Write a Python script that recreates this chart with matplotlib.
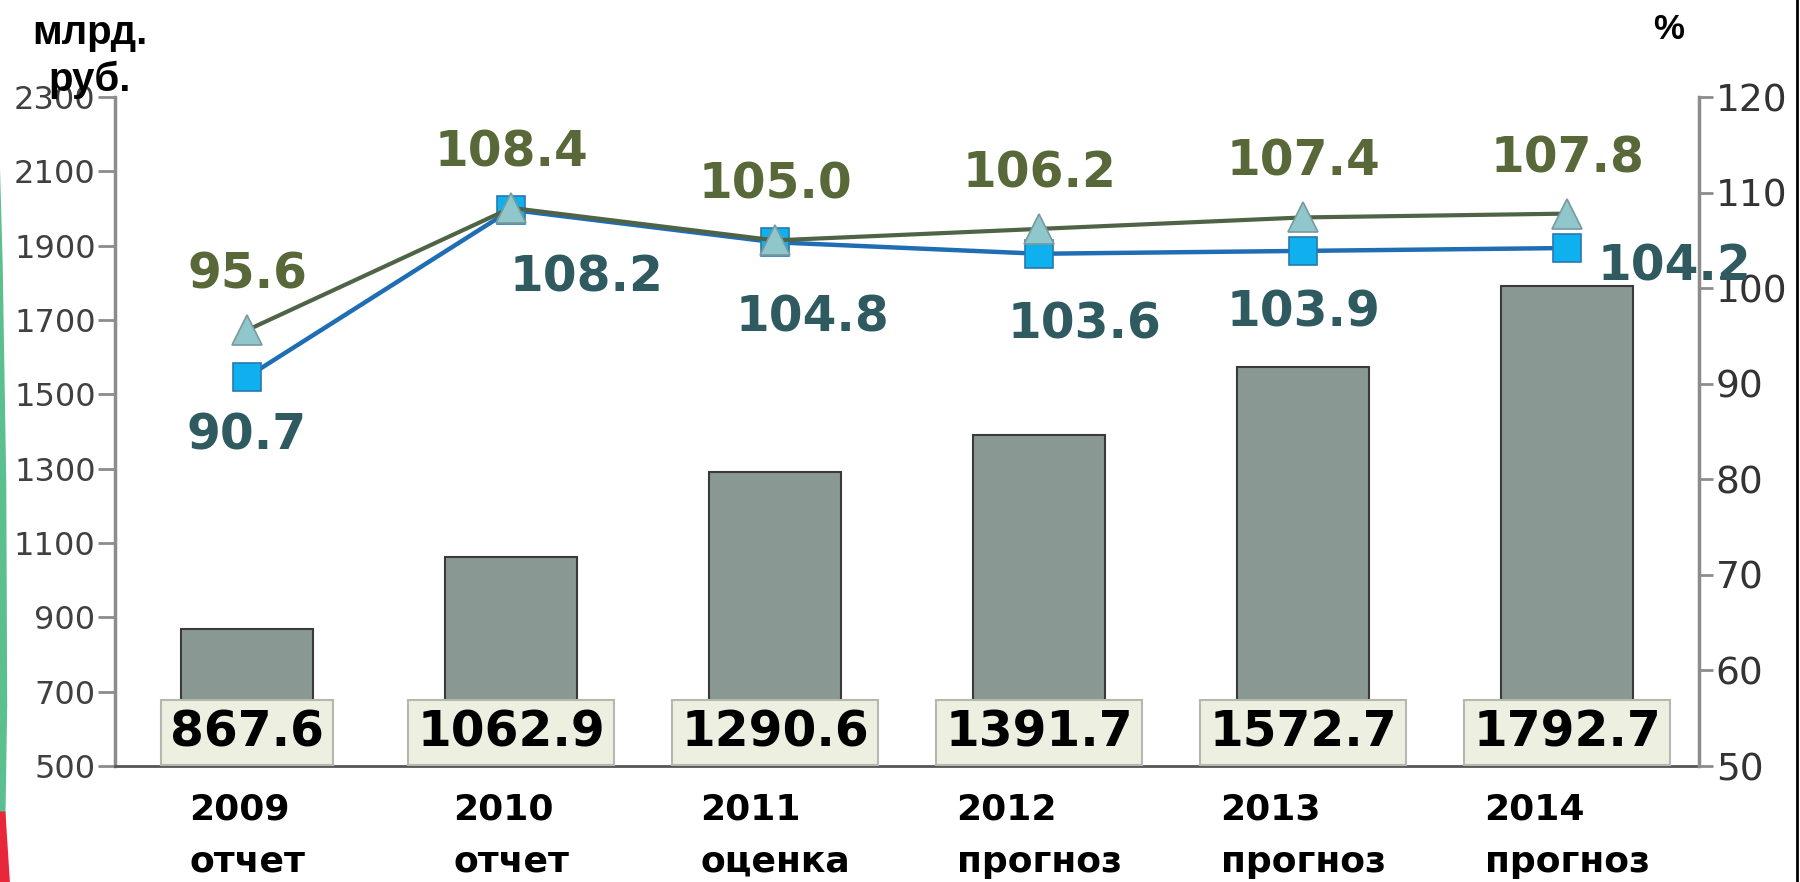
import matplotlib
matplotlib.use("Agg")
import matplotlib.pyplot as plt
from matplotlib.patches import Polygon
from matplotlib.lines import Line2D

# данные
years = ["2009", "2010", "2011", "2012", "2013", "2014"]
status = ["отчет", "отчет", "оценка", "прогноз", "прогноз", "прогноз"]
volume = [867.6, 1062.9, 1290.6, 1391.7, 1572.7, 1792.7]  # млрд. руб.
growth_upper = [95.6, 108.4, 105.0, 106.2, 107.4, 107.8]  # %
growth_lower = [90.7, 108.2, 104.8, 103.6, 103.9, 104.2]  # %

# смещения подписей нижней линии (в пунктах)
lower_offsets = [(0, -42), (54, -49), (27, -54), (33, -51), (0, -44), (77, -13)]

bar_color = "#8a9893"
upper_line = "#4f6446"
upper_marker = "#8fc7cc"
lower_line = "#1f6db3"
lower_marker = "#0fb0ee"
upper_text = "#586838"
lower_text = "#2e5a60"
spine_color = "#8c8c8c"

fig = plt.figure(figsize=(18, 8.82), dpi=100)
ax1 = fig.add_axes([0.0639, 0.1315, 0.88, 0.7585])
ax2 = ax1.twinx()

x = list(range(len(years)))

# столбцы
ax1.bar(x, volume, width=0.5, color=bar_color, edgecolor="#3a3a3a",
        linewidth=1.5, zorder=2)
for xi, v in zip(x, volume):
    ax1.text(xi, 590, f"{v:.1f}", ha="center", va="center", fontsize=35,
             fontweight="bold", color="black", zorder=5,
             bbox=dict(boxstyle="square,pad=0.18", facecolor="#edf0e1",
                       edgecolor="#b5b8b0", linewidth=1.5))

ax1.set_xlim(-0.5, 5.5)
ax1.set_ylim(500, 2300)
ax1.set_yticks(range(500, 2301, 200))
ax1.set_xticks(x)
ax1.set_xticklabels([f"{y}\n{s}" for y, s in zip(years, status)],
                    fontsize=26, fontweight="bold", linespacing=1.68,
                    multialignment="left")
ax1.tick_params(axis="x", length=0, pad=19)
ax1.tick_params(axis="y", labelsize=23, labelcolor="#404040", length=12,
                width=2, color=spine_color, pad=2)

# линии
ax2.plot(x, growth_lower, "-s", color=lower_line, linewidth=3.2,
         markersize=20, markerfacecolor=lower_marker,
         markeredgecolor="#2a78b0", markeredgewidth=1.2, zorder=3)
ax2.plot(x, growth_upper, "-^", color=upper_line, linewidth=3,
         markersize=22, markerfacecolor=upper_marker,
         markeredgecolor="#7a9a9a", markeredgewidth=1.2, zorder=4)

for xi, v in zip(x, growth_upper):
    ax2.annotate(f"{v:.1f}", (xi, v), xytext=(0, 40), textcoords="offset points",
                 ha="center", va="center", fontsize=35, fontweight="bold",
                 color=upper_text, annotation_clip=False, zorder=6)
for xi, v, off in zip(x, growth_lower, lower_offsets):
    ax2.annotate(f"{v:.1f}", (xi, v), xytext=off, textcoords="offset points",
                 ha="center", va="center", fontsize=35, fontweight="bold",
                 color=lower_text, annotation_clip=False, zorder=6)

ax2.set_ylim(50, 120)
ax2.set_yticks(range(50, 121, 10))
ax2.tick_params(axis="y", labelsize=27, labelcolor="#333333", length=10,
                width=2, color=spine_color, pad=2)

for ax in (ax1, ax2):
    ax.spines["top"].set_visible(False)
    ax.set_facecolor("none")
ax1.spines["right"].set_visible(False)
ax1.spines["left"].set_color(spine_color)
ax1.spines["left"].set_linewidth(2.5)
ax2.spines["left"].set_visible(False)
ax2.spines["bottom"].set_visible(False)
ax2.spines["right"].set_color(spine_color)
ax2.spines["right"].set_linewidth(2.5)
ax1.spines["bottom"].set_color("#555555")
ax1.spines["bottom"].set_linewidth(2)

# подписи осей
fig.text(0.05, 0.963, "млрд.", ha="center", va="center", fontsize=29,
         fontweight="bold", family="Liberation Sans")
fig.text(0.05, 0.909, "руб.", ha="center", va="center", fontsize=29,
         fontweight="bold", family="Liberation Sans")
fig.text(0.927, 0.967, "%", ha="center", va="center", fontsize=25,
         fontweight="bold", family="Liberation Sans")

# декоративные полосы по краям
fig.add_artist(Polygon([(0, 0.81), (0.0015, 0.7), (0.0035, 0.45),
                        (0.004, 0.2), (0.003, 0.07), (0, 0.07)],
                       closed=True, transform=fig.transFigure,
                       facecolor="#5cbf8e", edgecolor="none"))
fig.add_artist(Polygon([(0, 0.08), (0.003, 0.08), (0.0055, 0.0),
                        (0, 0.0)], closed=True, transform=fig.transFigure,
                       facecolor="#e8283a", edgecolor="none"))
fig.add_artist(Line2D([0.9985, 0.9985], [0, 1], transform=fig.transFigure,
                      color="black", linewidth=2))

fig.savefig("out.png", dpi=100)
